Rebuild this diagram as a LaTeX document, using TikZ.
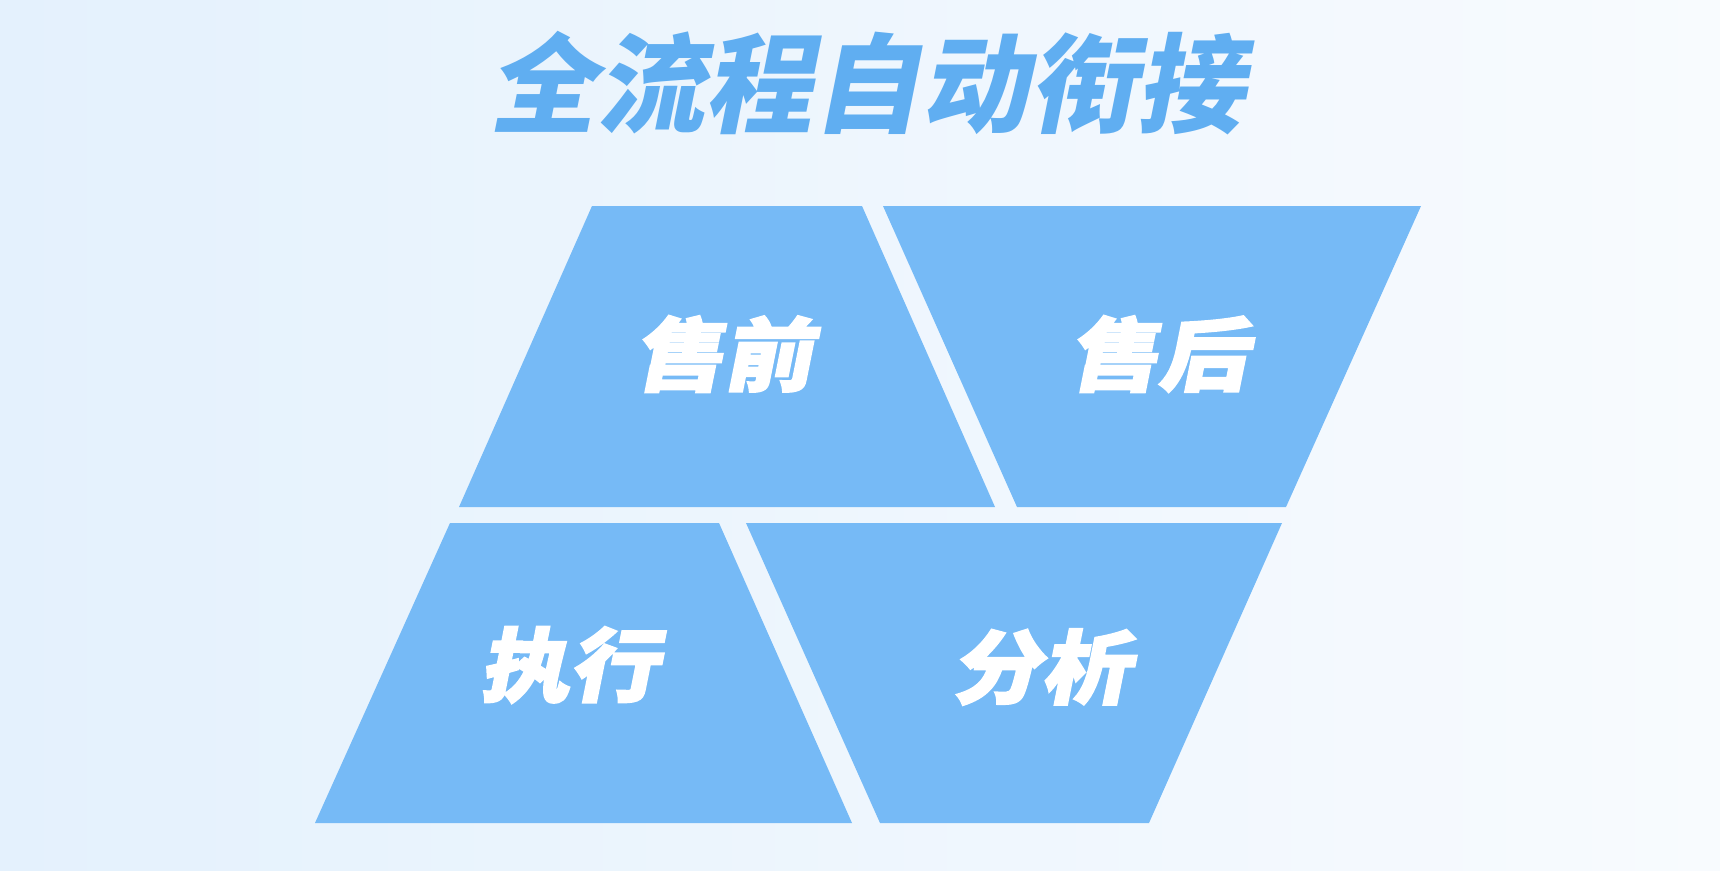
\documentclass[tikz,border=0pt]{standalone}
\usepackage{fontspec}
\newfontfamily\cjk{Noto Sans CJK SC}[FakeSlant=0.2]
\newfontfamily\cjkheavy{Noto Sans CJK SC}[FakeSlant=0.2, FakeStretch=1.12, FakeBold=2.5]
\definecolor{tile}{HTML}{76BAF6}
\definecolor{ttl}{HTML}{60AEF1}
\definecolor{bgl}{HTML}{E4F1FD}
\definecolor{bgr}{HTML}{F8FBFE}
\begin{document}
\begin{tikzpicture}[x=1pt,y=-1pt,
  tile/.style={fill=tile, draw=none},
  lbl/.style={font=\cjkheavy\bfseries\fontsize{80}{80}\selectfont, text=white, inner sep=0pt},
  ttlstyle/.style={font=\cjk\bfseries\fontsize{108}{108}\selectfont, text=ttl, inner sep=0pt}]
\useasboundingbox (0,0) rectangle (1720,870);
\shade[left color=bgl, right color=bgr] (0,0) rectangle (1720,870);
% tiles
\fill[tile] (592,206) -- (862,206) -- (995,507) -- (459,507) -- cycle;
\fill[tile] (883,206) -- (1421,206) -- (1286,507) -- (1017,507) -- cycle;
\fill[tile] (450,523) -- (719,523) -- (852,823) -- (315,823) -- cycle;
\fill[tile] (746,523) -- (1282,523) -- (1149,823) -- (880,823) -- cycle;
% labels
\node[ttlstyle] (title) at (866,83) {全流程自动衔接};
\node[lbl] (sq) at (723,354) {售前};
\node[lbl] (sh) at (1158,354) {售后};
\node[lbl] (zx) at (569,665) {执行};
\node[lbl] (fx) at (1041,667) {分析};
\end{tikzpicture}
\end{document}
